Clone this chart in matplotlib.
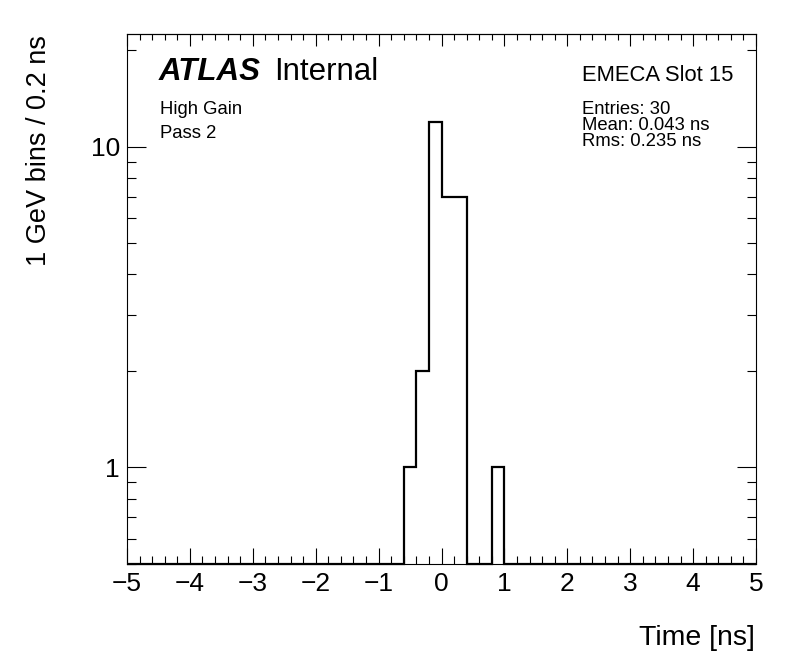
import numpy as np
import matplotlib
matplotlib.use("Agg")
import matplotlib.pyplot as plt
from matplotlib.ticker import MultipleLocator, LogLocator, FixedFormatter, NullFormatter, FuncFormatter

plt.rcParams['font.family'] = ['Liberation Sans', 'DejaVu Sans']

# ---- data ----
bin_edges = np.linspace(-5.0, 5.0, 51)          # 0.2 ns bins
counts = np.zeros(50)
nonzero_bins = [22, 23, 24, 25, 26, 29]          # bins -0.6..-0.4, ..., 0.8..1.0
nonzero_counts = [1, 2, 12, 7, 7, 1]
counts[nonzero_bins] = nonzero_counts

x_ticks = [-5, -4, -3, -2, -1, 0, 1, 2, 3, 4, 5]
y_ticks = [1, 10]
y_tick_labels = ["1", "10"]
y_range = (0.5, 22.5)

stats_lines = ["Entries: 30", "Mean: 0.043 ns", "Rms: 0.235 ns"]
region_label = "EMECA Slot 15"
info_lines = ["High Gain", "Pass 2"]

W, H = 796, 672
fig = plt.figure(figsize=(W / 100, H / 100), dpi=100)
ax = fig.add_axes([127 / W, 1 - 564 / H, (756 - 127) / W, (564 - 34) / H])

ax.set_yscale('log')
ax.set_xlim(-5, 5)
ax.set_ylim(*y_range)

plot_vals = np.clip(counts, y_range[0], None)
ax.stairs(plot_vals, bin_edges, baseline=y_range[0], color='black', lw=1.6, clip_on=False, zorder=3)

# x ticks
ax.set_xticks(x_ticks)
ax.xaxis.set_minor_locator(MultipleLocator(0.2))
ax.xaxis.set_major_formatter(FuncFormatter(lambda v, p: ("\u2212%d" % abs(v)) if v < 0 else "%d" % v))
ax.tick_params(axis='x', which='major', direction='in', length=11.5, width=0.8,
               top=False, bottom=True, labelsize=19, pad=6)
ax.tick_params(axis='x', which='minor', direction='in', length=5.8, width=0.8,
               top=False, bottom=True)

sec = ax.secondary_xaxis('top')
sec.set_xticks(x_ticks)
sec.xaxis.set_minor_locator(MultipleLocator(0.2))
sec.tick_params(axis='x', which='major', direction='in', length=8.5, width=0.8, labeltop=False)
sec.tick_params(axis='x', which='minor', direction='in', length=4.3, width=0.8)
sec.spines['top'].set_linewidth(0.8)

# y ticks
ax.yaxis.set_major_locator(LogLocator(base=10, subs=(1.0,)))
ax.set_yticks(y_ticks)
ax.yaxis.set_major_formatter(FixedFormatter(y_tick_labels))
ax.yaxis.set_minor_locator(LogLocator(base=10, subs=np.arange(2, 10), numticks=20))
ax.yaxis.set_minor_formatter(NullFormatter())
ax.tick_params(axis='y', which='major', direction='in', length=13.7, width=0.8,
               left=True, right=True, labelsize=19, pad=5)
ax.tick_params(axis='y', which='minor', direction='in', length=6.8, width=0.8,
               left=True, right=True)

for s in ax.spines.values():
    s.set_linewidth(0.8)

# axis titles
fig.text(39 / W, 1 - 35 / H, "1 GeV bins / 0.2 ns", rotation=90, ha='center', va='top', fontsize=19.5)
fig.text(755 / W, 1 - 645 / H, "Time [ns]", ha='right', va='baseline', fontsize=20.5)

# ATLAS label
fig.text(159 / W, 1 - 80 / H, "ATLAS", fontsize=22.5, fontweight='bold', fontstyle='italic',
         ha='left', va='baseline')
fig.text(274 / W, 1 - 80 / H, "Internal", fontsize=22.5, ha='left', va='baseline')

for i, t in enumerate(info_lines):
    fig.text(160 / W, 1 - (114.3 + 24 * i) / H, t, fontsize=13.3, ha='left', va='baseline')

fig.text(582 / W, 1 - 81 / H, region_label, fontsize=15.8, ha='left', va='baseline')
for i, t in enumerate(stats_lines):
    fig.text(582 / W, 1 - (114.3 + 15.7 * i) / H, t, fontsize=13.3, ha='left', va='baseline')

fig.savefig("out.png", dpi=100)
